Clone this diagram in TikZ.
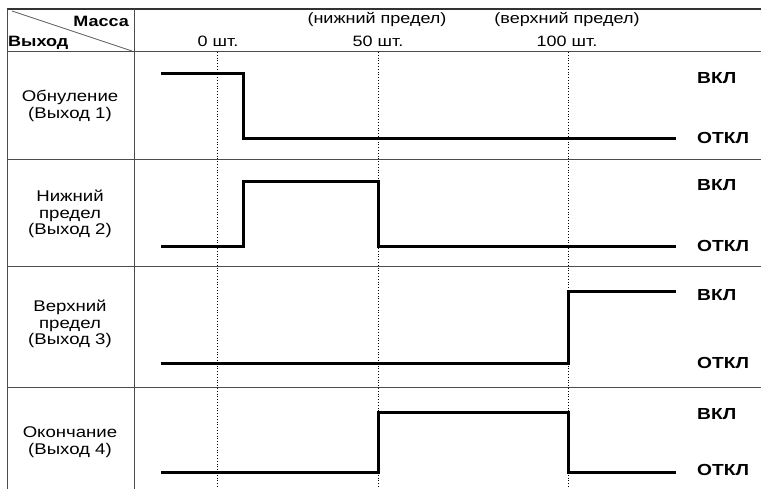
\documentclass[tikz,border=0pt]{standalone}
\usepackage{fontspec}
\setmainfont{Liberation Sans}[FakeStretch=1.2]
\begin{document}
\begin{tikzpicture}[x=1pt,y=-1pt,
  grid/.style={draw=black!70, line width=1pt},
  topline/.style={draw=black!80, line width=1.6pt},
  diag/.style={draw=black!60, line width=0.8pt},
  vmark/.style={draw=black, dotted, line width=0.8pt},
  sig/.style={draw=black, line width=3pt, line join=miter},
  txt/.style={font=\fontsize{15}{17}\selectfont, inner sep=0pt},
  btxt/.style={font=\fontsize{15}{17}\selectfont\bfseries, inner sep=0pt},
  lbl/.style={font=\fontsize{15.5}{16.8}\selectfont, align=center, inner sep=0pt},
  state/.style={font=\fontsize{16}{18}\selectfont\bfseries, anchor=west, inner sep=0pt}]
\useasboundingbox (0,0) rectangle (761,489);
\fill[white] (0,0) rectangle (761,489);
% grid
\draw[topline] (7,9) -- (761,9);
\foreach \yy in {52,160,267,387} \draw[grid] (7,\yy) -- (761,\yy);
\draw[grid] (7,9) -- (7,489);
\draw[grid] (134,9) -- (134,489);
\draw[diag] (12,11) -- (132,51);
% dotted markers
\foreach \xx in {217,378,568} \draw[vmark] (\xx,52) -- (\xx,489);
% header texts
\node[btxt, anchor=base east] (massa) at (129,27) {Масса};
\node[btxt, anchor=base west] (vyhod) at (8,47) {Выход};
\node[txt, anchor=base] (h0) at (218,47) {0 шт.};
\node[txt, anchor=base] (hlo) at (377,24) {(нижний предел)};
\node[txt, anchor=base] (h50) at (378,47) {50 шт.};
\node[txt, anchor=base] (hhi) at (567,24) {(верхний предел)};
\node[txt, anchor=base] (h100) at (567,47) {100 шт.};
% row labels
\node[lbl] (r1) at (70,106) {Обнуление\\(Выход 1)};
\node[lbl] (r2) at (70,214) {Нижний\\предел\\(Выход 2)};
\node[lbl] (r3) at (70,324) {Верхний\\предел\\(Выход 3)};
\node[lbl] (r4) at (70,442) {Окончание\\(Выход 4)};
% state labels
\node[state] (on1) at (697,78) {ВКЛ};
\node[state] (off1) at (697,138) {ОТКЛ};
\node[state] (on2) at (697,185) {ВКЛ};
\node[state] (off2) at (697,246) {ОТКЛ};
\node[state] (on3) at (697,295) {ВКЛ};
\node[state] (off3) at (697,363) {ОТКЛ};
\node[state] (on4) at (697,414) {ВКЛ};
\node[state] (off4) at (697,470) {ОТКЛ};
% signals
\draw[sig] (161,74) -- (243,74) -- (243,139) -- (676,139);
\draw[sig] (161,247) -- (243,247) -- (243,182) -- (378,182) -- (378,247) -- (676,247);
\draw[sig] (161,363) -- (568,363) -- (568,292) -- (676,292);
\draw[sig] (161,472) -- (378,472) -- (378,412) -- (568,412) -- (568,472) -- (676,472);
\end{tikzpicture}
\end{document}
